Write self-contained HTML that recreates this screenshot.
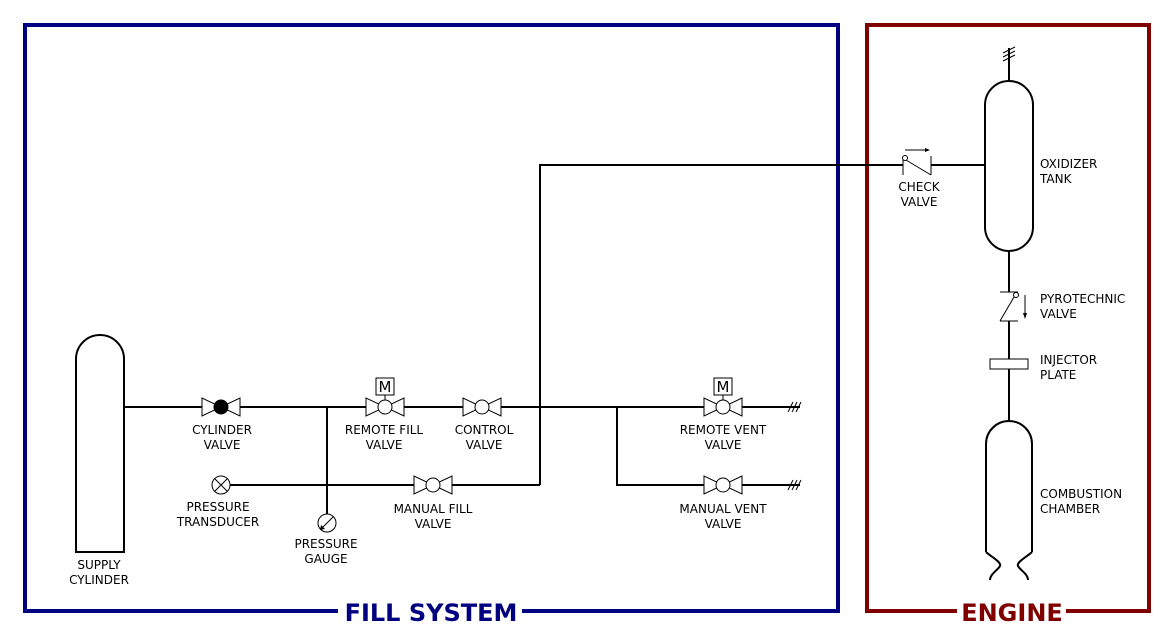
<!DOCTYPE html>
<html><head><meta charset="utf-8"><style>
html,body{margin:0;padding:0;background:#fff;}
svg{display:block;}
text{font-family:"DejaVu Sans","Liberation Sans",sans-serif;font-size:12px;fill:#000;}
.t{text-anchor:middle;}
.ttl{font-weight:bold;font-size:24px;text-anchor:middle;}
</style></head><body>
<svg width="1175" height="640" viewBox="0 0 1175 640" xmlns="http://www.w3.org/2000/svg">
<defs>
<g id="v" stroke="#000" stroke-width="1" fill="#fff">
<path d="M-19,-9 L-19,9 L0,0 Z M19,-9 L19,9 L0,0 Z"/>
<circle r="7"/>
</g>
<g id="m" stroke="#000" stroke-width="1" fill="#fff">
<line x1="0" y1="-7" x2="0" y2="-12"/>
<rect x="-9" y="-29" width="18" height="17"/>
</g>
<g id="h" stroke="#000" stroke-width="1">
<line x1="-5" y1="5" x2="0" y2="-5"/><line x1="-1" y1="5" x2="4" y2="-5"/><line x1="3" y1="5" x2="8" y2="-5"/>
</g>
</defs>
<rect x="25" y="25" width="813" height="586" fill="none" stroke="#000080" stroke-width="4"/>
<rect x="338" y="598" width="184" height="30" fill="#fff"/>
<text x="431" y="621" class="ttl" style="fill:#000080">FILL SYSTEM</text>
<rect x="867" y="25" width="282" height="586" fill="none" stroke="#800000" stroke-width="4"/>
<rect x="957" y="598" width="109" height="30" fill="#fff"/>
<text x="1012" y="621" class="ttl" style="fill:#800000">ENGINE</text>

<g stroke="#000" stroke-width="2" fill="none">
<path d="M76,552 L76,359 A24,24 0 0 1 124,359 L124,552 Z" fill="#fff"/>
<line x1="124" y1="407" x2="800" y2="407"/>
<line x1="327" y1="407" x2="327" y2="514"/>
<line x1="230" y1="485" x2="540" y2="485"/>
<polyline points="540,485 540,165 903,165"/>
<line x1="931" y1="165" x2="985" y2="165"/>
<polyline points="617,407 617,485 800,485"/>
<line x1="1009" y1="48" x2="1009" y2="82"/>
<path d="M985,105 A24,24 0 0 1 1033,105 L1033,227 A24,24 0 0 1 985,227 Z" fill="#fff"/>
<line x1="1009" y1="251" x2="1009" y2="292"/>
<line x1="1009" y1="321" x2="1009" y2="420"/>
<path d="M986,552 L986,444 A23,23 0 0 1 1032,444 L1032,552"/>
<path d="M986,552 C990,556 1002,562 1000,566 C998,570 990,574 990,580"/>
<path d="M1032,552 C1028,556 1016,562 1018,566 C1020,570 1028,574 1028,580"/>
</g>
<use href="#v" x="221" y="407"/>
<circle cx="221" cy="407" r="7" fill="#000"/>
<use href="#v" x="385" y="407"/><use href="#m" x="385" y="407"/>
<text x="385" y="392" class="t" style="font-size:15px">M</text>
<use href="#v" x="482" y="407"/>
<use href="#v" x="433" y="485"/>
<use href="#v" x="723" y="407"/><use href="#m" x="723" y="407"/>
<text x="723" y="392" class="t" style="font-size:15px">M</text>
<use href="#v" x="723" y="485"/>
<use href="#h" x="793" y="407"/>
<use href="#h" x="793" y="485"/>
<g stroke="#000" stroke-width="1">
<line x1="1003" y1="53" x2="1015" y2="47"/><line x1="1003" y1="57" x2="1015" y2="51"/><line x1="1003" y1="61" x2="1015" y2="55"/>
</g>
<circle cx="221" cy="485" r="9" fill="#fff" stroke="#000"/>
<path d="M215,479 L227,491 M227,479 L215,491" stroke="#000"/>
<circle cx="327" cy="523" r="9" fill="#fff" stroke="#000"/>
<line x1="333" y1="517" x2="322" y2="528" stroke="#000"/>
<path d="M320,530 L321,525 L325,529 Z" fill="#000"/>
<g stroke="#000" stroke-width="1" fill="none">
<line x1="903" y1="156" x2="903" y2="175"/>
<line x1="931" y1="156" x2="931" y2="175"/>
<line x1="906" y1="160" x2="931" y2="175"/>
<circle cx="905" cy="158" r="2.5" fill="#fff"/>
<line x1="905" y1="150" x2="926" y2="150"/>
</g>
<path d="M930,150 L925,148 L925,152 Z" fill="#000"/>
<g stroke="#000" stroke-width="1" fill="none">
<line x1="1000" y1="292" x2="1018" y2="292"/>
<line x1="1000" y1="321" x2="1018" y2="321"/>
<line x1="1014" y1="297" x2="1000" y2="321"/>
<circle cx="1016" cy="295" r="2.5" fill="#fff"/>
<line x1="1025" y1="295" x2="1025" y2="314"/>
</g>
<path d="M1025,319 L1023,313 L1027,313 Z" fill="#000"/>
<rect x="990" y="359" width="38" height="10" fill="#fff" stroke="#000"/>
<text x="99" y="569" class="t">SUPPLY</text><text x="99" y="584" class="t">CYLINDER</text>
<text x="222" y="434" class="t">CYLINDER</text><text x="222" y="449" class="t">VALVE</text>
<text x="384" y="434" class="t">REMOTE FILL</text><text x="384" y="449" class="t">VALVE</text>
<text x="484" y="434" class="t">CONTROL</text><text x="484" y="449" class="t">VALVE</text>
<text x="723" y="434" class="t">REMOTE VENT</text><text x="723" y="449" class="t">VALVE</text>
<text x="218" y="511" class="t">PRESSURE</text><text x="218" y="526" class="t">TRANSDUCER</text>
<text x="326" y="548" class="t">PRESSURE</text><text x="326" y="563" class="t">GAUGE</text>
<text x="433" y="513" class="t">MANUAL FILL</text><text x="433" y="528" class="t">VALVE</text>
<text x="723" y="513" class="t">MANUAL VENT</text><text x="723" y="528" class="t">VALVE</text>
<text x="919" y="191" class="t">CHECK</text><text x="919" y="206" class="t">VALVE</text>
<text x="1040" y="168">OXIDIZER</text><text x="1040" y="183">TANK</text>
<text x="1040" y="303">PYROTECHNIC</text><text x="1040" y="318">VALVE</text>
<text x="1040" y="364">INJECTOR</text><text x="1040" y="379">PLATE</text>
<text x="1040" y="498">COMBUSTION</text><text x="1040" y="513">CHAMBER</text>
</svg>
</body></html>
